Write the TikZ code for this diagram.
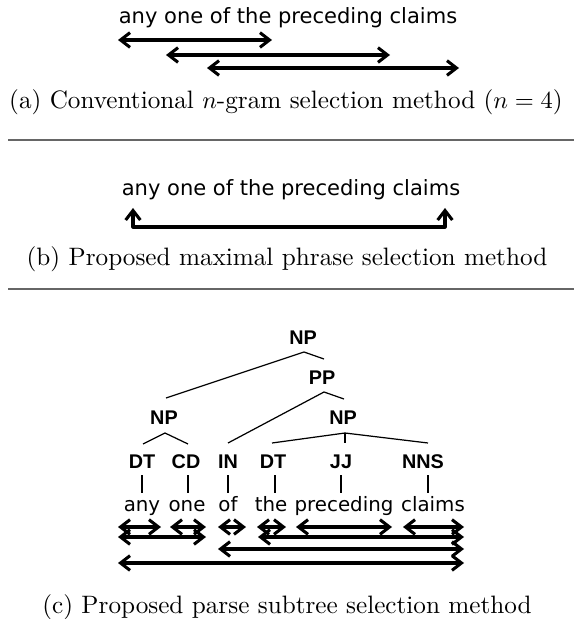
\documentclass[tikz,border=0pt]{standalone}
\usepackage{fontspec}
\usetikzlibrary{arrows.meta}
\newfontfamily\phrfont{DejaVu Sans}
\newfontfamily\tagfont{Liberation Sans}
\begin{document}
\begin{tikzpicture}[x=0.409pt,y=-0.409pt,
  phr/.style={font=\phrfont\fontsize{8.6}{10}\selectfont, inner sep=0pt, anchor=base},
  wrd/.style={font=\phrfont\fontsize{8.1}{10}\selectfont, inner sep=0pt, anchor=base},
  tg/.style={font=\tagfont\bfseries\fontsize{8.1}{9}\selectfont, inner sep=0pt, anchor=base},
  capt/.style={font=\fontsize{10.3}{12}\selectfont, inner sep=0pt, anchor=base},
  span/.style={line width=1.25pt, line join=round,
    {Straight Barb[length=3.9pt,width=6pt]}-{Straight Barb[length=3.9pt,width=6pt]}},
  tree/.style={line width=0.5pt},
  rulel/.style={line width=0.45pt, black!60}]
\useasboundingbox (0,0) rectangle (574,619);

% ---------- (a) ----------
\node[phr] (pa) at (288,24) {any one of the preceding claims};
\coordinate (a1l) at (118,40);  \coordinate (a1r) at (272,40);
\coordinate (a2l) at (166,55);  \coordinate (a2r) at (390,55);
\coordinate (a3l) at (207,68);  \coordinate (a3r) at (459,68);
\draw[span] (a1l) -- (a1r);
\draw[span] (a2l) -- (a2r);
\draw[span] (a3l) -- (a3r);
\node[capt] (ca) at (286,109) {(a) Conventional $n$-gram selection method ($n = 4$)};
\coordinate (r1l) at (8,140); \coordinate (r1r) at (574,140);
\draw[rulel] (r1l) -- (r1r);

% ---------- (b) ----------
\node[phr] (pb) at (291,196) {any one of the preceding claims};
\coordinate (bl) at (133,208); \coordinate (blc) at (133,227);
\coordinate (brc) at (445,227); \coordinate (br) at (445,208);
\draw[span] (bl) -- (blc) -- (brc) -- (br);
\node[capt] (cb) at (287,266) {(b) Proposed maximal phrase selection method};
\coordinate (r2l) at (8,289); \coordinate (r2r) at (574,289);
\draw[rulel] (r2l) -- (r2r);

% ---------- (c) tree ----------
\node[tg] (np0) at (303,344) {NP};
\node[tg] (pp)  at (322,384) {PP};
\node[tg] (npl) at (164,424) {NP};
\node[tg] (npr) at (343,424) {NP};
\node[tg] (dt1) at (142,468) {DT};
\node[tg] (cd)  at (186,468) {CD};
\node[tg] (in)  at (228,468) {IN};
\node[tg] (dt2) at (273,468) {DT};
\node[tg] (jj)  at (341,468) {JJ};
\node[tg] (nns) at (423,468) {NNS};

\node[wrd] (w1) at (142,511) {any};
\node[wrd] (w2) at (187,511) {one};
\node[wrd] (w3) at (228,511) {of};
\node[wrd] (w4) at (271,511) {the};
\node[wrd] (w5) at (344,511) {preceding};
\node[wrd] (w6) at (433,511) {claims};

% tree edges
\coordinate (np0b) at (304,352);
\coordinate (np0l) at (166,398);
\coordinate (np0r) at (324,359);
\draw[tree] (np0l) -- (np0b) -- (np0r);
\coordinate (ppb) at (324,392);
\coordinate (ppl) at (228,443);
\coordinate (ppr) at (344,399);
\draw[tree] (ppl) -- (ppb) -- (ppr);
\coordinate (nplb) at (165,433);
\coordinate (npll) at (143,444);
\coordinate (nplr) at (188,444);
\draw[tree] (npll) -- (nplb) -- (nplr);
\coordinate (nprb) at (345,433);
\coordinate (nprl) at (272,443);
\coordinate (nprm) at (345,443);
\coordinate (nprr) at (428,443);
\draw[tree] (nprl) -- (nprb) -- (nprr);
\draw[tree] (nprb) -- (nprm);

% POS to word ticks
\foreach \n/\x in {t1/142,t2/188,t3/228,t4/275,t5/341,t6/428}{
  \coordinate (\n a) at (\x,475); \coordinate (\n b) at (\x,493);
  \draw[tree] (\n a) -- (\n b);
}

% ---------- (c) spans ----------
\coordinate (s1l) at (118,527); \coordinate (s1r) at (161,527);
\coordinate (s2l) at (170,527); \coordinate (s2r) at (206,527);
\coordinate (s3l) at (218,527); \coordinate (s3r) at (246,527);
\coordinate (s4l) at (257,527); \coordinate (s4r) at (286,527);
\coordinate (s5l) at (296,527); \coordinate (s5r) at (392,527);
\coordinate (s6l) at (403,527); \coordinate (s6r) at (464,527);
\draw[span] (s1l) -- (s1r);
\draw[span] (s2l) -- (s2r);
\draw[span] (s3l) -- (s3r);
\draw[span] (s4l) -- (s4r);
\draw[span] (s5l) -- (s5r);
\draw[span] (s6l) -- (s6r);
\coordinate (m1l) at (118,537); \coordinate (m1r) at (206,537);
\coordinate (m2l) at (258,537); \coordinate (m2r) at (464,537);
\draw[span] (m1l) -- (m1r);
\draw[span] (m2l) -- (m2r);
\coordinate (n1l) at (218,549); \coordinate (n1r) at (464,549);
\draw[span] (n1l) -- (n1r);
\coordinate (o1l) at (118,563); \coordinate (o1r) at (464,563);
\draw[span] (o1l) -- (o1r);

\node[capt] (cc) at (287,613) {(c) Proposed parse subtree selection method};
\end{tikzpicture}
\end{document}
